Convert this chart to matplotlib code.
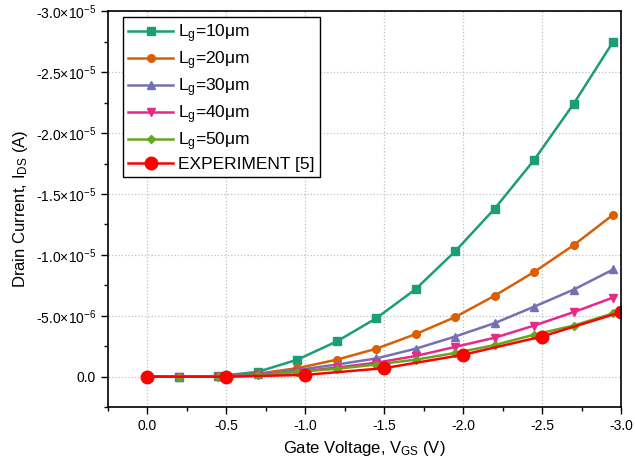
import numpy as np
import matplotlib
matplotlib.use("Agg")
import matplotlib.pyplot as plt
from matplotlib.ticker import MultipleLocator, FuncFormatter

plt.rcParams['font.family'] = ['Liberation Sans', 'DejaVu Sans']
plt.rcParams['mathtext.fontset'] = 'custom'
plt.rcParams['mathtext.rm'] = 'Liberation Sans'
plt.rcParams['mathtext.it'] = 'Liberation Sans'

vgs_sim = [0.0, -0.2, -0.45, -0.7, -0.95, -1.2, -1.45, -1.7, -1.95, -2.2, -2.45, -2.7, -2.95]
ids_10 = [0, 0, -0.005e-5, -0.04e-5, -0.14e-5, -0.29e-5, -0.48e-5, -0.72e-5, -1.03e-5, -1.38e-5, -1.78e-5, -2.24e-5, -2.75e-5]
ids_20 = [0, 0, -0.003e-5, -0.025e-5, -0.07e-5, -0.14e-5, -0.23e-5, -0.35e-5, -0.49e-5, -0.665e-5, -0.86e-5, -1.08e-5, -1.33e-5]
ids_30 = [0, 0, -0.002e-5, -0.02e-5, -0.055e-5, -0.10e-5, -0.15e-5, -0.23e-5, -0.33e-5, -0.44e-5, -0.575e-5, -0.715e-5, -0.88e-5]
ids_40 = [0, 0, -0.001e-5, -0.015e-5, -0.04e-5, -0.075e-5, -0.115e-5, -0.17e-5, -0.245e-5, -0.32e-5, -0.42e-5, -0.53e-5, -0.65e-5]
ids_50 = [0, 0, -0.001e-5, -0.01e-5, -0.04e-5, -0.065e-5, -0.10e-5, -0.14e-5, -0.195e-5, -0.26e-5, -0.345e-5, -0.42e-5, -0.52e-5]
vgs_exp = [0.0, -0.5, -1.0, -1.5, -2.0, -2.5, -3.0]
ids_exp = [0, 0, -0.015e-5, -0.07e-5, -0.18e-5, -0.33e-5, -0.53e-5]

labels = ["L$_\\mathrm{g}$=10μm", "L$_\\mathrm{g}$=20μm", "L$_\\mathrm{g}$=30μm",
          "L$_\\mathrm{g}$=40μm", "L$_\\mathrm{g}$=50μm", "EXPERIMENT [5]"]

fig = plt.figure(figsize=(6.35, 4.68), dpi=100)
ax = fig.add_axes([0.170, 0.130, 0.808, 0.846])

ax.plot(vgs_sim, ids_10, color="#1b9e77", marker="s", ms=5.5, lw=1.8, label=labels[0])
ax.plot(vgs_sim, ids_20, color="#d95f02", marker="o", ms=5.5, lw=1.8, label=labels[1])
ax.plot(vgs_sim, ids_30, color="#7570b3", marker="^", ms=6, lw=1.8, label=labels[2])
ax.plot(vgs_sim, ids_40, color="#e7298a", marker="v", ms=6, lw=1.8, label=labels[3])
ax.plot(vgs_sim, ids_50, color="#66a61e", marker="D", ms=4.5, lw=1.8, label=labels[4])
ax.plot(vgs_exp, ids_exp, color="#ff0000", marker="o", ms=9, lw=1.8, label=labels[5])

ax.set_xlim(0.25, -3.0)
ax.set_ylim(0.25e-5, -3.0e-5)

ax.xaxis.set_major_locator(MultipleLocator(0.5))
ax.xaxis.set_minor_locator(MultipleLocator(0.25))
ax.yaxis.set_major_locator(MultipleLocator(0.5e-5))
ax.yaxis.set_minor_locator(MultipleLocator(0.25e-5))


def yfmt(v, pos):
    if abs(v) < 1e-12:
        return "0.0"
    e = int(np.floor(np.log10(abs(v))))
    m = v / 10 ** e
    return "%.1f×10$^{%d}$" % (m, e)


ax.yaxis.set_major_formatter(FuncFormatter(yfmt))
ax.xaxis.set_major_formatter(FuncFormatter(lambda v, p: "%.1f" % v))

ax.tick_params(which="major", direction="out", length=5, width=1, labelsize=10)
ax.tick_params(which="minor", direction="out", length=3, width=1)
ax.grid(True, which="major", linestyle=":", color="#c0c0c0", lw=0.9)
for s in ax.spines.values():
    s.set_linewidth(1.2)

ax.set_xlabel("Gate Voltage, V$_\\mathrm{GS}$ (V)", fontsize=12)
ax.set_ylabel("Drain Current, I$_\\mathrm{DS}$ (A)", fontsize=12)

leg = ax.legend(loc="upper left", fontsize=12.5, frameon=True, fancybox=False,
                edgecolor="black", framealpha=1, handlelength=2.6,
                borderpad=0.3, labelspacing=0.25, handletextpad=0.3,
                borderaxespad=0, bbox_to_anchor=(0.029, 0.985))
leg.get_frame().set_linewidth(1.0)

fig.savefig("out.png", dpi=100)
